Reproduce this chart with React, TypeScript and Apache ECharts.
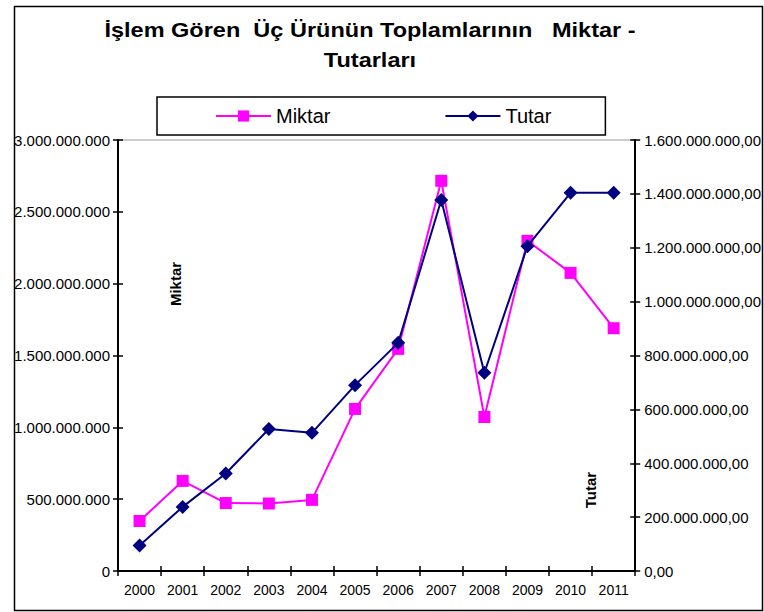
import React, { useEffect, useRef } from "react";
import * as echarts from "echarts";

const years = ["2000", "2001", "2002", "2003", "2004", "2005", "2006", "2007", "2008", "2009", "2010", "2011"];
const miktar = [348e6, 627e6, 473e6, 470e6, 495e6, 1128e6, 1546e6, 2716e6, 1072e6, 2298e6, 2075e6, 1690e6];
const tutar = [95e6, 238e6, 362e6, 527e6, 513e6, 690e6, 847e6, 1377e6, 736e6, 1206e6, 1404e6, 1404e6];
const titleLine1 = "İşlem Gören  Üç Ürünün Toplamlarının   Miktar -";
const titleLine2 = "Tutarları";

const FONT = "'Liberation Sans', Arial, sans-serif";

function dots(n: number): string {
  return Math.round(n).toString().replace(/\B(?=(\d{3})+(?!\d))/g, ".");
}
function leftFmt(v: number) {
  return dots(v);
}
function rightFmt(v: number) {
  return dots(v) + ",00";
}

export default function App() {
  const ref = useRef<HTMLDivElement>(null);
  useEffect(() => {
    if (!ref.current) return;
    const chart = echarts.init(ref.current, null, { renderer: "svg" });
    const axisLabelBase = { color: "#000", fontFamily: FONT, fontSize: 15 };
    const hiddenY = (pos: "left" | "right", max: number, interval: number) => ({
      type: "value",
      position: pos,
      min: 0,
      max,
      interval,
      axisLine: { show: false },
      axisTick: { show: true, inside: true, length: 5, lineStyle: { color: "#000", width: 1.5 } },
      axisLabel: { show: false },
      splitLine: { show: false },
    });
    const titleStyle = (text: string) => ({
      text,
      font: `bold 21px ${FONT}`,
      fill: "#000",
      align: "center",
      verticalAlign: "middle",
    });
    chart.setOption({
      animation: false,
      backgroundColor: "#fff",
      legend: {
        left: 157,
        top: 97,
        padding: [9, 54, 9, 58],
        itemGap: 114,
        itemWidth: 55,
        itemHeight: 14,
        borderColor: "#000",
        borderWidth: 1.5,
        textStyle: { fontFamily: FONT, fontSize: 20, color: "#000" },
        data: ["Miktar", "Tutar"],
      },
      grid: { left: 118, right: 126, top: 140, bottom: 41, show: true, borderColor: "#999", borderWidth: 1 },
      xAxis: [
        {
          type: "category",
          data: years,
          boundaryGap: true,
          axisLine: { lineStyle: { color: "#000", width: 2 } },
          axisTick: { show: true, length: 5, lineStyle: { color: "#000", width: 1.5 } },
          axisLabel: { ...axisLabelBase, fontSize: 14, margin: 12 },
        },
        {
          type: "category",
          data: years,
          position: "bottom",
          boundaryGap: true,
          axisLine: { show: false },
          axisTick: { show: true, inside: true, length: 5, lineStyle: { color: "#000", width: 1.5 } },
          axisLabel: { show: false },
        },
      ],
      yAxis: [
        {
          type: "value",
          position: "left",
          min: 0,
          max: 3e9,
          interval: 5e8,
          axisLine: { show: true, lineStyle: { color: "#000", width: 2 } },
          axisTick: { show: true, length: 5, lineStyle: { color: "#000", width: 1.5 } },
          axisLabel: { ...axisLabelBase, margin: 8, formatter: leftFmt },
          splitLine: { show: false },
        },
        {
          type: "value",
          position: "right",
          min: 0,
          max: 1.6e9,
          interval: 2e8,
          axisLine: { show: true, lineStyle: { color: "#000", width: 2 } },
          axisTick: { show: true, length: 5, lineStyle: { color: "#000", width: 1.5 } },
          axisLabel: { ...axisLabelBase, margin: 9, formatter: rightFmt },
          splitLine: { show: false },
        },
        hiddenY("left", 3e9, 5e8),
        hiddenY("right", 1.6e9, 2e8),
      ],
      series: [
        {
          name: "Miktar",
          type: "line",
          yAxisIndex: 0,
          data: miktar,
          symbol: "rect",
          symbolSize: 12,
          lineStyle: { color: "#FF00FF", width: 2 },
          itemStyle: { color: "#FF00FF" },
          z: 2,
        },
        {
          name: "Tutar",
          type: "line",
          yAxisIndex: 1,
          data: tutar,
          symbol: "diamond",
          symbolSize: 14,
          lineStyle: { color: "#000080", width: 2 },
          itemStyle: { color: "#000080" },
          z: 3,
        },
      ],
      graphic: [
        {
          type: "rect",
          left: 12,
          top: 4,
          shape: { width: 748, height: 604 },
          style: { fill: "none", stroke: "#000", lineWidth: 1.5 },
          silent: true,
        },
        { type: "text", x: 370, y: 30, scaleX: 1.12, style: titleStyle(titleLine1) },
        { type: "text", x: 370, y: 60, scaleX: 1.12, style: titleStyle(titleLine2) },
        {
          type: "text",
          x: 175,
          y: 284,
          rotation: Math.PI / 2,
          style: {
            text: "Miktar",
            font: `bold 15px ${FONT}`,
            fill: "#000",
            align: "center",
            verticalAlign: "middle",
          },
        },
        {
          type: "text",
          x: 590,
          y: 490,
          rotation: Math.PI / 2,
          style: {
            text: "Tutar",
            font: `bold 15px ${FONT}`,
            fill: "#000",
            align: "center",
            verticalAlign: "middle",
          },
        },
      ],
    });
    return () => chart.dispose();
  }, []);
  return (
    <div
      ref={ref}
      style={{ position: "fixed", left: 0, top: 0, width: 764, height: 612 }}
    />
  );
}
